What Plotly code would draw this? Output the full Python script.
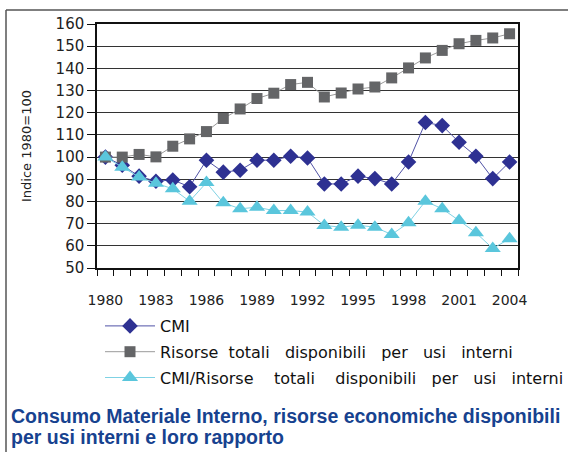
import plotly.graph_objects as go

years = [1980, 1981, 1982, 1983, 1984, 1985, 1986, 1987, 1988, 1989, 1990, 1991, 1992,
         1993, 1994, 1995, 1996, 1997, 1998, 1999, 2000, 2001, 2002, 2003, 2004]
cmi = [100, 96.3, 91.4, 89.1, 89.7, 86.6, 98.6, 93.2, 94.1, 98.6, 98.6, 100.4, 99.6,
       87.9, 87.9, 91.4, 90.3, 87.9, 97.8, 115.6, 114.2, 106.7, 100.4, 90.3, 97.8]
risorse = [100, 100, 101.2, 100.1, 104.9, 108.2, 111.5, 117.4, 121.7, 126.4, 128.8, 132.7, 133.7,
           127.1, 128.9, 130.7, 131.6, 135.7, 140.2, 144.7, 148.1, 151.1, 152.6, 153.7, 155.6]
rapporto = [100, 95.4, 91.0, 88.2, 85.7, 80.1, 88.5, 79.4, 76.7, 77.4, 75.9, 75.9, 75.2,
            69.2, 68.4, 69.3, 68.4, 65.1, 70.4, 80.1, 76.7, 71.4, 65.9, 58.8, 63.2]
tick_years = [1980, 1983, 1986, 1989, 1992, 1995, 1998, 2001, 2004]
tick_labels = ["1980", "1983", "1986", "1989", "1992", "1995", "1998", "2001", "2004"]
y_ticks = [50, 60, 70, 80, 90, 100, 110, 120, 130, 140, 150, 160]

name_cmi = "CMI"
name_ris = "Risorse  totali   disponibili   per   usi   interni"
name_rap = "CMI/Risorse    totali    disponibili   per   usi   interni"
title_1 = "Consumo Materiale Interno, risorse economiche disponibili"
title_2 = "per usi interni e loro rapporto"

W, H = 568, 452
L, R, T, B = 97, 50, 24, 184
pw, ph = W - L - R, H - T - B


def px(xp):
    return (xp - L) / pw


def py(yp):
    return (H - B - yp) / ph


fig = go.Figure()
fig.add_trace(go.Scatter(
    x=years, y=cmi, name=name_cmi, mode="lines+markers", legendgroup="a",
    line=dict(color="#5052a6", width=1),
    marker=dict(symbol="diamond", size=12, color="#2e3192"),
))
fig.add_trace(go.Scatter(
    x=years, y=risorse, name=name_ris, mode="lines+markers", legendgroup="b",
    line=dict(color="#9a9a9a", width=1),
    marker=dict(symbol="square", size=11, color="#646567"),
))
fig.add_trace(go.Scatter(
    x=years, y=rapporto, name=name_rap, mode="lines+markers", legendgroup="c",
    line=dict(color="#7fd2e4", width=1),
    marker=dict(symbol="triangle-up", size=14, color="#5ac6dc"),
))

title_font = dict(family="Liberation Sans", size=19.5, color="#17428f")

fig.update_layout(
    width=W, height=H,
    margin=dict(l=L, r=R, t=T, b=B, autoexpand=False),
    paper_bgcolor="white", plot_bgcolor="white",
    font=dict(family="DejaVu Sans", color="#1a1a1a"),
    showlegend=True,
    legend=dict(
        orientation="v", x=px(100), xanchor="left", y=py(309), yanchor="top",
        font=dict(family="DejaVu Sans", size=16, color="#111111"),
        tracegroupgap=2, itemwidth=50, bgcolor="rgba(0,0,0,0)",
    ),
    xaxis=dict(
        type="linear", range=[1979.5, 2004.5],
        tickmode="array", tickvals=tick_years, ticktext=tick_labels,
        ticks="outside", ticklen=18, tickcolor="rgba(0,0,0,0)",
        tickfont=dict(family="DejaVu Sans", size=14, color="#222222"),
        showgrid=False, zeroline=False,
        showline=True, linecolor="#111111", linewidth=1.5, mirror=True,
        minor=dict(tick0=1979.5, dtick=1, ticks="outside", ticklen=6,
                   tickcolor="#111111", showgrid=False),
    ),
    yaxis=dict(
        range=[50, 160], tickmode="array", tickvals=y_ticks,
        ticks="outside", ticklen=8, tickcolor="#111111",
        tickfont=dict(family="DejaVu Sans", size=15, color="#222222"),
        showgrid=True, gridcolor="#333333", gridwidth=1.2, zeroline=False,
        showline=True, linecolor="#111111", linewidth=1.5, mirror=True,
        title=dict(text="Indice 1980=100", standoff=21,
                   font=dict(family="DejaVu Sans", size=13, color="#222222")),
    ),
    annotations=[
        dict(text="<b>" + title_1 + "</b>", xref="paper", yref="paper",
             x=px(9), y=py(416), xanchor="left", yanchor="middle",
             align="left", showarrow=False, font=title_font),
        dict(text="<b>" + title_2 + "</b>", xref="paper", yref="paper",
             x=px(9), y=py(437), xanchor="left", yanchor="middle",
             align="left", showarrow=False, font=title_font),
    ],
    shapes=[
        dict(type="line", xref="paper", yref="paper", x0=px(6), x1=px(568), y0=py(10), y1=py(10),
             line=dict(color="#555555", width=1.5)),
        dict(type="line", xref="paper", yref="paper", x0=px(6), x1=px(6), y0=py(10), y1=py(452),
             line=dict(color="#555555", width=1.5)),
    ],
)
fig.write_html("out.html", config={"displayModeBar": False},
               post_script="document.body.style.margin='0';document.body.style.padding='0';")
